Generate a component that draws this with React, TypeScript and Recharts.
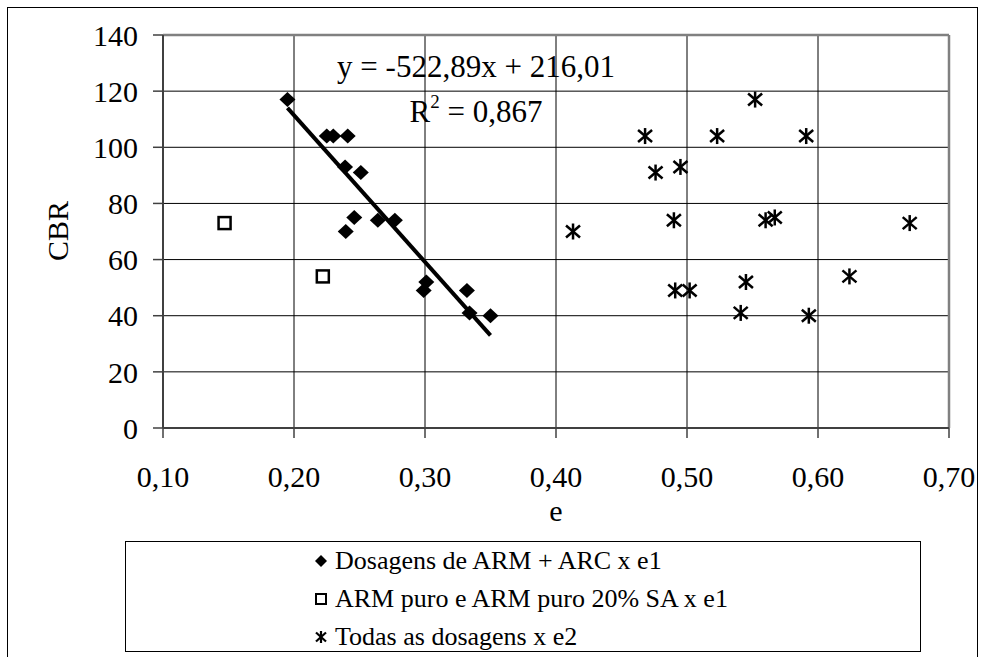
import React from "react";
import {
  ScatterChart,
  Scatter,
  XAxis,
  YAxis,
  CartesianGrid,
  ReferenceLine,
  Legend,
  Label,
} from "recharts";

// Dosagens de ARM + ARC x e1
const dosagemE1 = [0.195, 0.225, 0.23, 0.241, 0.239, 0.251, 0.246, 0.2395, 0.264, 0.277, 0.301, 0.299, 0.332, 0.334, 0.35];
const dosagemCBR = [117, 104, 104, 104, 93, 91, 75, 70, 74, 74, 52, 49, 49, 41, 40];

// ARM puro e ARM puro 20% SA x e1
const puroE1 = [0.147, 0.222];
const puroCBR = [73, 54];

// Todas as dosagens x e2
const todasE2 = [0.552, 0.468, 0.523, 0.591, 0.495, 0.476, 0.567, 0.413, 0.49, 0.56, 0.545, 0.491, 0.502, 0.541, 0.593, 0.67, 0.624];
const todasCBR = [117, 104, 104, 104, 93, 91, 75, 70, 74, 74, 52, 49, 49, 41, 40, 73, 54];

// linear trendline (Excel)
const trendSlope = -522.89;
const trendIntercept = 216.01;
const trendRange = [0.195, 0.35];

const xTicks = [0.1, 0.2, 0.3, 0.4, 0.5, 0.6, 0.7];
const yTicks = [0, 20, 40, 60, 80, 100, 120, 140];

const legendLabels = [
  "Dosagens de ARM + ARC x e1",
  "ARM puro e ARM puro 20% SA x e1",
  "Todas as dosagens x e2",
];

const FONT = "'Liberation Serif', 'Times New Roman', serif";

const zip = (xs: number[], ys: number[]) => xs.map((x, i) => ({ x, y: ys[i] }));

const dosagemData = zip(dosagemE1, dosagemCBR);
const puroData = zip(puroE1, puroCBR);
const todasData = zip(todasE2, todasCBR);
const trendData = trendRange.map((x) => ({ x, y: trendSlope * x + trendIntercept }));

const Diamond = ({ cx, cy }: any) => (
  <path d={`M${cx},${cy - 7.5} L${cx + 8},${cy} L${cx},${cy + 7.5} L${cx - 8},${cy} Z`} fill="#000" />
);

const Square = ({ cx, cy }: any) => (
  <rect x={cx - 6} y={cy - 6} width={12} height={12} fill="#fff" stroke="#000" strokeWidth={2.5} />
);

const Star = ({ cx, cy }: any) => (
  <g stroke="#000" strokeWidth={2.5}>
    <line x1={cx} y1={cy - 8} x2={cx} y2={cy + 8} />
    <line x1={cx - 7} y1={cy - 6} x2={cx + 7} y2={cy + 6} />
    <line x1={cx - 7} y1={cy + 6} x2={cx + 7} y2={cy - 6} />
  </g>
);

const NoDot = () => <g />;

const fmtX = (v: number) => v.toFixed(2).replace(".", ",");

function LegendBox() {
  const symbols = [
    <path key="d" d="M7,1 L13,7 L7,13 L1,7 Z" fill="#000" />,
    <rect key="s" x={2} y={2} width={10} height={10} fill="#fff" stroke="#000" strokeWidth={2} />,
    <g key="t" stroke="#000" strokeWidth={2.2}>
      <line x1={7} y1={1} x2={7} y2={13} />
      <line x1={2} y1={2.5} x2={12} y2={11.5} />
      <line x1={2} y1={11.5} x2={12} y2={2.5} />
    </g>,
  ];
  return (
    <div style={{ paddingLeft: 188, fontFamily: FONT, fontSize: 26, color: "#000" }}>
      {legendLabels.map((label, i) => (
        <div key={label} style={{ height: 38, lineHeight: "38px", display: "flex", alignItems: "center", whiteSpace: "nowrap" }}>
          <svg width={14} height={14} style={{ marginRight: 7 }}>
            {symbols[i]}
          </svg>
          <span>{label}</span>
        </div>
      ))}
    </div>
  );
}

export default function App() {
  return (
    <div style={{ position: "absolute", left: 0, top: 0, width: 986, height: 657, background: "#fff", overflow: "hidden" }}>
      <div
        style={{
          position: "absolute",
          left: 7,
          top: 7,
          width: 971,
          height: 700,
          border: "1.5px solid #000",
          boxSizing: "border-box",
          pointerEvents: "none",
        }}
      />
      <ScatterChart width={986} height={657} margin={{ top: 35, right: 37, left: 0, bottom: 129 }}>
        <CartesianGrid stroke="#000" strokeWidth={1} />
        <XAxis
          dataKey="x"
          type="number"
          domain={[0.1, 0.7]}
          ticks={xTicks}
          interval={0}
          tickFormatter={fmtX}
          tickSize={10}
          tickMargin={28}
          height={100}
          axisLine={{ stroke: "#404040", strokeWidth: 2 }}
          tickLine={{ stroke: "#404040", strokeWidth: 1.5 }}
          tick={{ fill: "#000", fontSize: 30, fontFamily: FONT }}
        >
          <Label
            content={() => (
              <text x={556} y={521} textAnchor="middle" fontSize={30} fontFamily={FONT} fill="#000">
                e
              </text>
            )}
          />
        </XAxis>
        <YAxis
          dataKey="y"
          type="number"
          domain={[0, 140]}
          ticks={yTicks}
          interval={0}
          width={163}
          tickSize={10}
          tickMargin={15}
          axisLine={{ stroke: "#404040", strokeWidth: 2 }}
          tickLine={{ stroke: "#404040", strokeWidth: 1.5 }}
          tick={{ fill: "#000", fontSize: 30, fontFamily: FONT }}
        >
          <Label
            content={() => (
              <text
                x={68}
                y={231}
                transform="rotate(-90 68 231)"
                textAnchor="middle"
                fontSize={30}
                fontFamily={FONT}
                fill="#000"
              >
                CBR
              </text>
            )}
          />
        </YAxis>
        <ReferenceLine y={140} stroke="#808080" strokeWidth={2.5} />
        <ReferenceLine x={0.7} stroke="#808080" strokeWidth={2.5} />
        <Scatter
          name="trend"
          data={trendData}
          line={{ stroke: "#000", strokeWidth: 4 }}
          shape={NoDot}
          legendType="none"
          isAnimationActive={false}
        />
        <Scatter name={legendLabels[0]} data={dosagemData} shape={Diamond} isAnimationActive={false} />
        <Scatter name={legendLabels[1]} data={puroData} shape={Square} isAnimationActive={false} />
        <Scatter name={legendLabels[2]} data={todasData} shape={Star} isAnimationActive={false} />
        <Legend
          layout="vertical"
          verticalAlign="middle"
          align="center"
          content={() => <LegendBox />}
          wrapperStyle={{
            left: 125,
            top: 541,
            width: 796,
            height: 111,
            border: "1.5px solid #000",
            boxSizing: "border-box",
            background: "#fff",
          }}
        />
      </ScatterChart>
      <div
        style={{
          position: "absolute",
          left: 276,
          top: 44,
          width: 400,
          textAlign: "center",
          fontFamily: FONT,
          fontSize: 31,
          lineHeight: "45px",
          color: "#000",
          pointerEvents: "none",
        }}
      >
        <div>y = -522,89x + 216,01</div>
        <div>
          R<span style={{ fontSize: 19, position: "relative", top: -14 }}>2</span> = 0,867
        </div>
      </div>
    </div>
  );
}
